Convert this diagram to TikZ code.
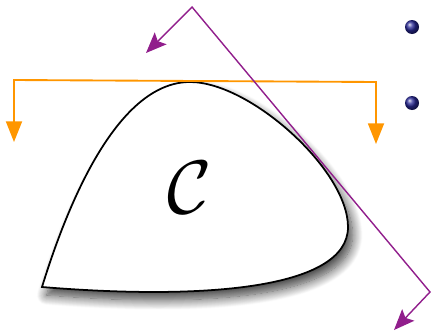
\documentclass[tikz,border=0pt]{standalone}
\usepackage{amsmath,amssymb}
\usepackage{xcolor}
\usepackage{tikz}
\usetikzlibrary{arrows.meta,shadows.blur}

\definecolor{cutorange}{RGB}{255,150,0}
\definecolor{cutpurple}{RGB}{145,30,140}
\definecolor{ballblue}{RGB}{40,40,150}

\begin{document}
\begin{tikzpicture}[
  x=0.03cm, y=-0.03cm,
  oarr/.style={draw=cutorange, line width=1.6pt,
               {Triangle[length=0.62cm, width=0.48cm]}-{Triangle[length=0.62cm, width=0.48cm]}},
  parr/.style={draw=cutpurple, line width=1.2pt,
               {Stealth[length=0.62cm, width=0.5cm, inset=0.12cm]}-{Stealth[length=0.62cm, width=0.5cm, inset=0.12cm]}},
  blob/.style={draw=black, line width=1.5pt, fill=white,
               blur shadow={shadow xshift=0.14cm, shadow yshift=-0.24cm,
                            shadow blur radius=0.3cm, shadow blur steps=14,
                            shadow opacity=75}},
  bullet/.style={circle, inner sep=0pt, minimum size=0.42cm, shading=ball,
                 ball color=ballblue},
]
\useasboundingbox (0,0) rectangle (431,333);

% the convex set
\path[blob] (42,287) .. controls (75,180) and (125,82) .. (190,82)
  .. controls (250,82) and (348,170) .. (348,227)
  .. controls (348,290) and (200,300) .. (42,287) -- cycle;
\node[font=\Huge, scale=2.6] (set) at (190,188) {$\mathcal{C}$};

% corners of the cuts
\coordinate (oa) at (14,142);
\coordinate (ob) at (14,80);
\coordinate (oc) at (376,82);
\coordinate (od) at (376,144);
\coordinate (pa) at (146,53);
\coordinate (pt) at (192,7);
\coordinate (pr) at (430,292);
\coordinate (pb) at (394,330);

\draw[oarr] (oa) -- (ob) -- (oc) -- (od);
\draw[parr] (pa) -- (pt) -- (pr) -- (pb);

\node[bullet] (ba) at (412,27) {};
\node[bullet] (bb) at (412,103) {};
\end{tikzpicture}
\end{document}
